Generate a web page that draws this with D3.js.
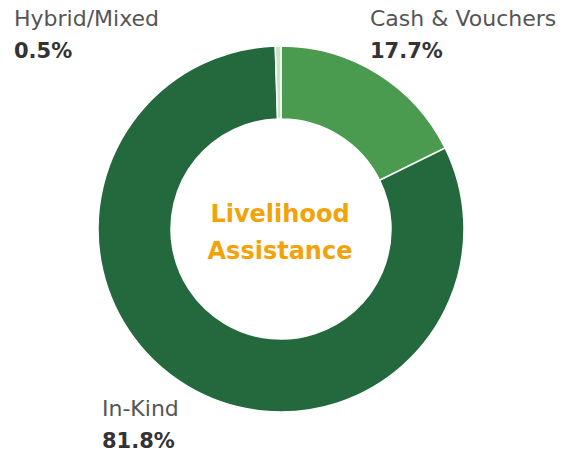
<!DOCTYPE html>
<html>
<head>
<meta charset="utf-8">
<script src="https://cdn.jsdelivr.net/npm/d3@7"></script>
<style>
  body { margin: 0; background: #fff; }
  text { font-family: "DejaVu Sans", sans-serif; }
</style>
</head>
<body>
<div id="donut"></div>
<script>
// slice order goes clockwise from 12 o'clock
const categories = ['Cash & Vouchers', 'In-Kind', 'Hybrid/Mixed'];
const shares = [17.7, 81.8, 0.5];
const sliceColors = ['#4a9a50', '#24693d', '#c9e6c2'];
const centerTitle = ['Livelihood', 'Assistance'];

const data = categories.map((c, i) => ({ category: c, pct: shares[i], color: sliceColors[i] }));

const width = 574, height = 452;
const cx = 281, cy = 229;
const outerR = 183, innerR = 110;

const svg = d3.select('#donut')
  .append('svg')
  .attr('width', width)
  .attr('height', height);

const pie = d3.pie().sort(null).value(d => d.pct);
const arc = d3.arc().innerRadius(innerR).outerRadius(outerR);

const g = svg.append('g').attr('transform', `translate(${cx},${cy})`);

g.selectAll('path')
  .data(pie(data))
  .enter()
  .append('path')
  .attr('d', arc)
  .attr('fill', d => d.data.color)
  .attr('stroke', '#fff')
  .attr('stroke-width', 1.5);

// labels sit in the corners, not on the arcs
const labelPos = {
  'Hybrid/Mixed': { x: 14, y: 26 },
  'Cash & Vouchers': { x: 370, y: 26 },
  'In-Kind': { x: 102, y: 416 }
};

data.forEach(d => {
  const p = labelPos[d.category];
  svg.append('text')
    .attr('x', p.x)
    .attr('y', p.y)
    .attr('font-size', 22)
    .attr('fill', '#555')
    .text(d.category);
  svg.append('text')
    .attr('x', p.x)
    .attr('y', p.y + 32)
    .attr('font-size', 21)
    .attr('font-weight', 'bold')
    .attr('fill', '#333')
    .text(d3.format('.1f')(d.pct) + '%');
});

svg.selectAll('.center-title')
  .data(centerTitle)
  .enter()
  .append('text')
  .attr('class', 'center-title')
  .attr('x', cx - 1)
  .attr('y', (d, i) => 222 + i * 37)
  .attr('text-anchor', 'middle')
  .attr('font-size', 24)
  .attr('font-weight', 'bold')
  .attr('fill', '#f0a30a')
  .text(d => d);
</script>
</body>
</html>
